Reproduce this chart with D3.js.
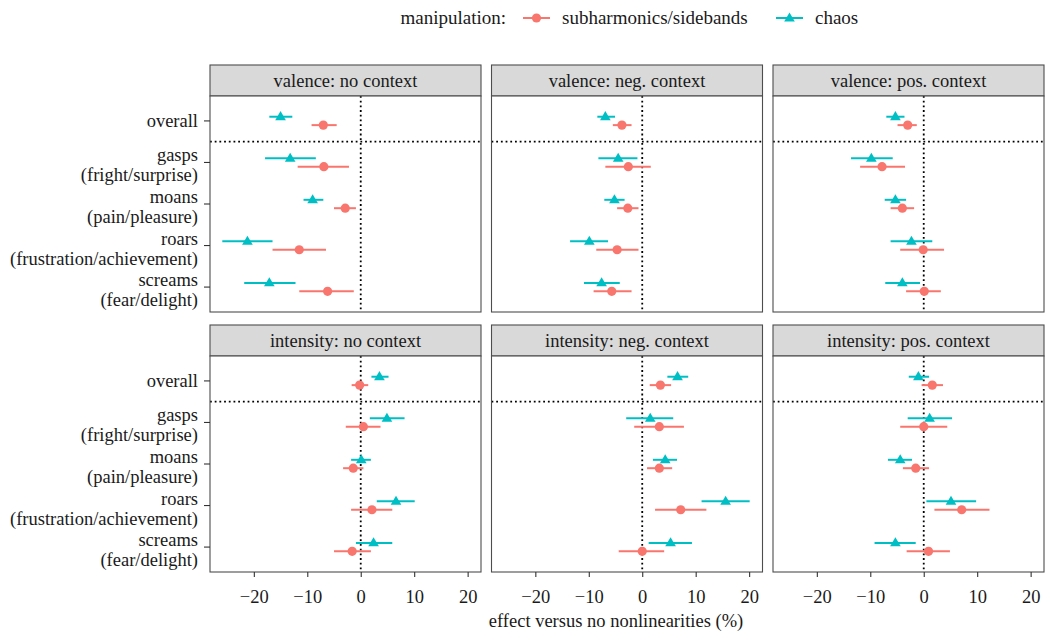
<!DOCTYPE html>
<html>
<head>
<meta charset="utf-8">
<script src="https://cdn.jsdelivr.net/npm/d3@7"></script>
<style>
  body { margin: 0; background: #fff; }
  svg { display: block; font-family: "Liberation Serif", "Times New Roman", serif; }
  text { font-family: "Liberation Serif", "Times New Roman", serif; }
</style>
</head>
<body>
<svg id="chart" width="1047" height="633"></svg>
<script>
// facet titles, row by row
var panels = ["valence: no context", "valence: neg. context", "valence: pos. context",
              "intensity: no context", "intensity: neg. context", "intensity: pos. context"]
var categories = [["overall"], ["gasps", "(fright/surprise)"], ["moans", "(pain/pleasure)"],
                  ["roars", "(frustration/achievement)"], ["screams", "(fear/delight)"]]
var series = ["subharmonics/sidebands", "chaos"]
var xTicks = [-20, -10, 0, 10, 20]

// one row per panel, values per category (overall, gasps, moans, roars, screams)
var subhEst = [[-7.0, -6.9, -2.9, -11.5, -6.2],
               [-3.8, -2.6, -2.7, -4.7, -5.7],
               [-3.0, -7.8, -4.0, -0.1, 0.1],
               [-0.2, 0.5, -1.4, 2.1, -1.6],
               [3.4, 3.2, 3.2, 7.2, 0.0],
               [1.6, 0.0, -1.5, 7.1, 0.9]]
var subhLo = [[-9.2, -11.8, -5.0, -16.5, -11.5],
              [-5.5, -6.9, -4.7, -8.6, -9.1],
              [-4.9, -11.9, -6.2, -4.4, -3.3],
              [-1.7, -2.8, -3.3, -1.8, -5.0],
              [1.4, -1.5, 0.9, 2.4, -4.4],
              [-0.4, -4.4, -3.9, 2.0, -3.2]]
var subhHi = [[-4.5, -2.2, -0.9, -6.5, -1.3],
              [-2.0, 1.6, -0.7, -0.7, -2.0],
              [-1.3, -3.5, -1.8, 3.8, 3.2],
              [1.4, 3.7, 0.5, 5.9, 1.9],
              [5.4, 7.8, 5.6, 12.0, 4.1],
              [3.6, 4.4, 1.0, 12.3, 4.9]]
var chaosEst = [[-15.0, -13.2, -9.0, -21.2, -17.1],
                [-6.9, -4.5, -5.2, -9.9, -7.6],
                [-5.3, -9.8, -5.3, -2.3, -4.0],
                [3.5, 4.9, 0.1, 6.6, 2.4],
                [6.6, 1.5, 4.3, 15.6, 5.3],
                [-1.0, 1.1, -4.4, 5.1, -5.3]]
var chaosLo = [[-17.1, -17.9, -10.7, -25.9, -21.8],
               [-8.4, -8.2, -7.1, -13.5, -10.9],
               [-7.0, -13.6, -7.3, -6.2, -7.2],
               [2.0, 1.7, -1.8, 3.0, -0.9],
               [4.7, -3.0, 2.0, 11.1, 1.2],
               [-2.8, -3.0, -6.7, 0.5, -9.2]]
var chaosHi = [[-12.8, -8.4, -7.0, -16.5, -12.2],
               [-5.1, -0.9, -3.3, -6.4, -4.2],
               [-3.6, -5.8, -3.3, 1.6, -0.7],
               [5.2, 8.2, 1.9, 10.1, 5.9],
               [8.6, 5.8, 6.5, 20.1, 9.3],
               [1.0, 5.3, -2.2, 9.8, -1.5]]

var colors = ["#F8766D", "#00BFC4"]

var svg = d3.select("#chart")
var colX = [210, 491.5, 773]
var rowY = [65, 325]
var panelW = 271
var stripH = 31
var plotH = 216
var dodge = 4.2
var fs = 18.5

var x = d3.scaleLinear().domain([-28.2, 22.5]).range([0, panelW])
var y = d3.scalePoint().domain(d3.range(categories.length)).range([0, plotH]).padding(0.6)

function drawTriangle(g, cx, cy, color) {
  var s = 5.6
  g.append("path")
    .attr("d", "M" + cx + "," + (cy - s) + "L" + (cx + s * 0.95) + "," + (cy + s * 0.62) +
               "L" + (cx - s * 0.95) + "," + (cy + s * 0.62) + "Z")
    .attr("fill", color)
}

panels.forEach(function(title, p) {
  var col = p % 3, row = Math.floor(p / 3)
  var g = svg.append("g").attr("transform", "translate(" + colX[col] + "," + rowY[row] + ")")

  // strip
  g.append("rect").attr("x", 0).attr("y", 0).attr("width", panelW).attr("height", stripH)
    .attr("fill", "#d9d9d9").attr("stroke", "#4d4d4d").attr("stroke-width", 1.1)
  g.append("text").attr("x", panelW / 2).attr("y", stripH / 2 + 6)
    .attr("text-anchor", "middle").attr("font-size", fs).attr("fill", "#1a1a1a")
    .text(title)

  var pg = g.append("g").attr("transform", "translate(0," + stripH + ")")
  pg.append("rect").attr("width", panelW).attr("height", plotH).attr("fill", "#fff")

  // reference lines
  pg.append("line").attr("x1", x(0)).attr("x2", x(0)).attr("y1", 0).attr("y2", plotH)
    .attr("stroke", "#000").attr("stroke-width", 1.8).attr("stroke-dasharray", "1.8,2.9")
  var yMid = (y(0) + y(1)) / 2
  pg.append("line").attr("x1", 0).attr("x2", panelW).attr("y1", yMid).attr("y2", yMid)
    .attr("stroke", "#000").attr("stroke-width", 1.8).attr("stroke-dasharray", "1.8,2.9")

  // error bars and points
  var sets = [
    {est: subhEst[p], lo: subhLo[p], hi: subhHi[p], off: dodge, color: colors[0], shape: "circle"},
    {est: chaosEst[p], lo: chaosLo[p], hi: chaosHi[p], off: -dodge, color: colors[1], shape: "triangle"}
  ]
  sets.forEach(function(s) {
    s.est.forEach(function(v, i) {
      var cy = y(i) + s.off
      pg.append("line").attr("x1", x(s.lo[i])).attr("x2", x(s.hi[i]))
        .attr("y1", cy).attr("y2", cy).attr("stroke", s.color).attr("stroke-width", 2)
      if (s.shape == "circle") {
        pg.append("circle").attr("cx", x(v)).attr("cy", cy).attr("r", 4.6).attr("fill", s.color)
      } else {
        drawTriangle(pg, x(v), cy, s.color)
      }
    })
  })

  pg.append("rect").attr("width", panelW).attr("height", plotH).attr("fill", "none")
    .attr("stroke", "#4d4d4d").attr("stroke-width", 1.1)

  // y axis on first column
  if (col == 0) {
    categories.forEach(function(lines, i) {
      var ty = y(i)
      pg.append("line").attr("x1", -6).attr("x2", 0).attr("y1", ty).attr("y2", ty)
        .attr("stroke", "#333").attr("stroke-width", 1.1)
      var t = pg.append("text").attr("text-anchor", "end").attr("font-size", fs).attr("fill", "#1a1a1a")
      if (lines.length == 1) {
        t.append("tspan").attr("x", -12).attr("y", ty + 6).text(lines[0])
      } else {
        t.append("tspan").attr("x", -12).attr("y", ty - 1).text(lines[0])
        t.append("tspan").attr("x", -12).attr("y", ty + 19).text(lines[1])
      }
    })
  }

  // x axis on bottom row
  if (row == 1) {
    var ax = pg.append("g").attr("transform", "translate(0," + plotH + ")")
      .call(d3.axisBottom(x).tickValues(xTicks).tickSize(5).tickPadding(13)
        .tickFormat(function(d) { return d < 0 ? "\u2212" + Math.abs(d) : d }))
    ax.select(".domain").remove()
    ax.selectAll(".tick line").attr("stroke", "#333").attr("stroke-width", 1.1)
    ax.selectAll(".tick text").attr("font-size", fs).attr("fill", "#1a1a1a")
      .attr("font-family", "Liberation Serif, serif")
  }
})

// axis title
svg.append("text").attr("x", 616).attr("y", 627).attr("text-anchor", "middle")
  .attr("font-size", fs).attr("fill", "#1a1a1a").text("effect versus no nonlinearities (%)")

// legend
var lg = svg.append("g")
lg.append("text").attr("x", 506).attr("y", 24).attr("text-anchor", "end")
  .attr("font-size", 19).attr("fill", "#1a1a1a").text("manipulation:")
var keyX = [536.5, 789.5]
series.forEach(function(name, i) {
  lg.append("line").attr("x1", keyX[i] - 13.5).attr("x2", keyX[i] + 13.5).attr("y1", 18).attr("y2", 18)
    .attr("stroke", colors[i]).attr("stroke-width", 2)
  if (i == 0) {
    lg.append("circle").attr("cx", keyX[i]).attr("cy", 18).attr("r", 4.6).attr("fill", colors[i])
  } else {
    drawTriangle(lg, keyX[i], 18, colors[i])
  }
  lg.append("text").attr("x", keyX[i] + 25.5).attr("y", 24)
    .attr("font-size", 19).attr("fill", "#1a1a1a").text(name)
})
</script>
</body>
</html>
